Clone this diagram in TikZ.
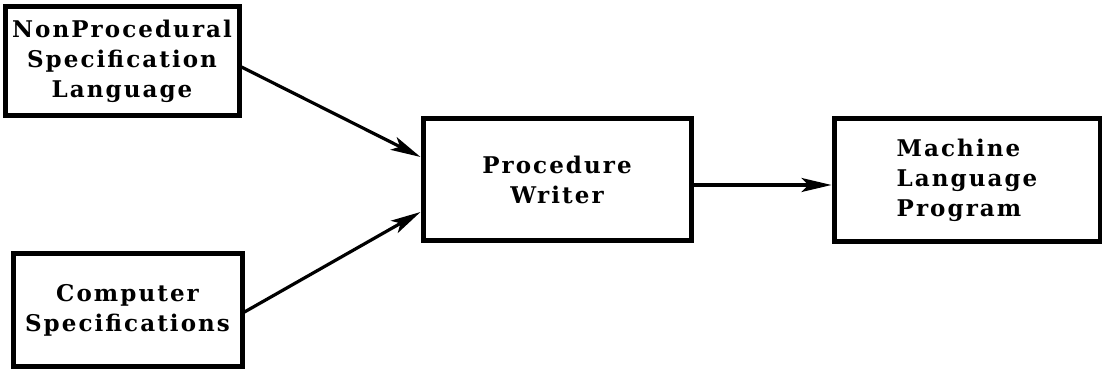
\documentclass[tikz,border=0pt]{standalone}
\usepackage{fontspec}
\setmainfont{DejaVu Serif}[LetterSpace=9]
\usetikzlibrary{positioning,arrows.meta}

\begin{document}
\begin{tikzpicture}[x=1pt,y=1pt,node distance = 138pt,
    block/.style={draw,line width=5pt,inner sep=0pt,
      font=\fontsize{23}{30}\selectfont\bfseries},
    flow/.style={line width=3.2pt,-{Stealth[length=30pt,width=14pt,inset=7pt]}}]
    \useasboundingbox (0,0) rectangle (1102,371);

    \node[block,align=center,minimum width=234pt,minimum height=109pt] (nonproc) at (122,309.5)
      {NonProcedural\\Specification\\Language};
    \node[block,align=center,minimum width=229pt,minimum height=113pt] (comp) at (127.5,60.5)
      {Computer\\Specifications};
    \node[block,align=center,minimum width=268pt,minimum height=122pt] (pw) at (557,191)
      {Procedure\\Writer};
    \node[block,align=left,minimum width=266pt,minimum height=123pt,right = of pw] (mlp)
      {Machine\\Language\\Program};

    \draw[flow] ([yshift=-5.5pt]nonproc.east) -- ([yshift=23pt]pw.west);
    \draw[flow] ([yshift=-1.5pt]comp.east) -- ([yshift=-32pt]pw.west);
    \draw[flow] ([yshift=-5pt]pw.east) -- ([yshift=-5pt]mlp.west);
  \end{tikzpicture}
\end{document}
